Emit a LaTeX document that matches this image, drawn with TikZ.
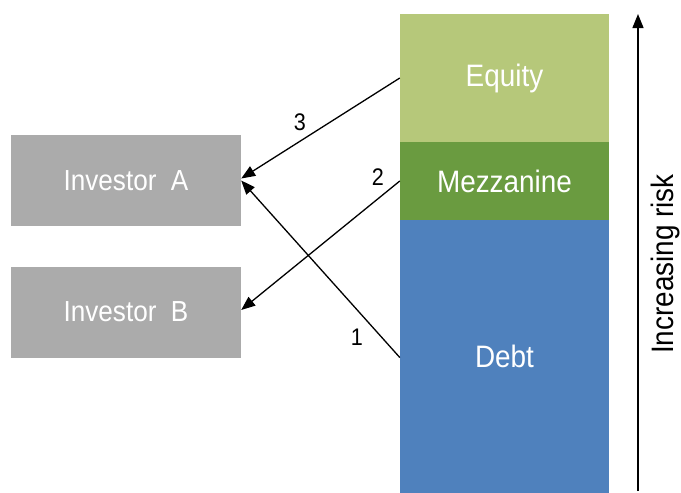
\documentclass[tikz,border=0pt]{standalone}
\usepackage{fontspec}
\setmainfont{Liberation Sans}[FakeStretch=0.9]
\usetikzlibrary{arrows.meta}
\definecolor{eqcol}{RGB}{182,200,122}
\definecolor{mzcol}{RGB}{106,155,64}
\definecolor{dbcol}{RGB}{79,129,189}
\definecolor{invcol}{RGB}{171,171,171}
\tikzset{
  invbox/.style={fill=invcol, draw=none, minimum width=230pt, minimum height=91pt, inner sep=0pt, text=white, font=\fontsize{29}{35}\selectfont},
  tranche/.style={draw=none, minimum width=209pt, inner sep=0pt, text=white, font=\fontsize{31}{37}\selectfont},
  flow/.style={-{Triangle[length=14pt,width=11pt]}, line width=1.3pt},
  numlab/.style={font=\fontsize{24}{28}\selectfont, inner sep=0pt},
}
\begin{document}
\begin{tikzpicture}[x=1pt,y=-1pt]
\useasboundingbox (0,0) rectangle (681,493);
\node[invbox] (A) at (126,180.5) {Investor~~A};
\node[invbox] (B) at (126,312) {Investor~~B};
\node[tranche, fill=eqcol, minimum height=128pt] (E) at (504.5,78) {\raisebox{-2pt}{Equity}};
\node[tranche, fill=mzcol, minimum height=78pt] (M) at (504.5,181) {Mezzanine};
\node[tranche, fill=dbcol, minimum height=273pt] (D) at (504.5,356.5) {Debt};
\draw[flow] (E.west) -- ([yshift=2pt]A.east);
\draw[flow] (M.west) -- ([yshift=2pt]B.east);
\draw[flow] ([yshift=-1pt]D.west) -- (A.east);
\node[numlab] (n3) at (300,122) {3};
\node[numlab] (n2) at (378,177) {2};
\node[numlab] (n1) at (357,337) {1};
\coordinate (rb) at (638,491);
\coordinate (rt) at (638,14);
\draw[flow] (rb) -- (rt);
\node[rotate=90, font=\fontsize{31}{37}\selectfont, inner sep=0pt] (risk) at (665,264) {Increasing risk};
\end{tikzpicture}
\end{document}
